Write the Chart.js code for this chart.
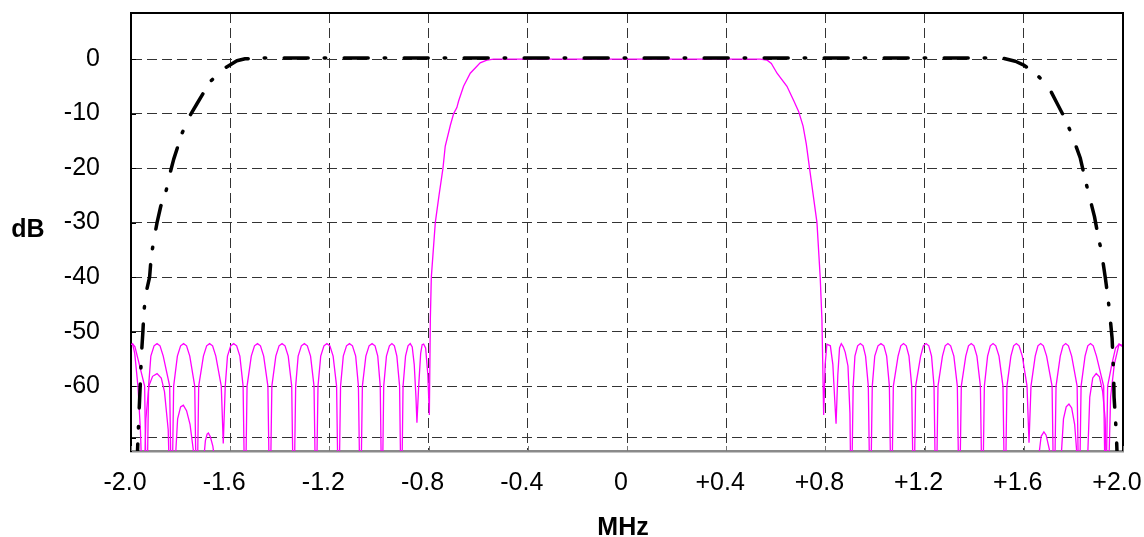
<!DOCTYPE html>
<html>
<head>
<meta charset="utf-8">
<title>Filter response, dB vs MHz</title>
<script src="https://cdn.jsdelivr.net/npm/chart.js@4.4.1/dist/chart.umd.min.js"></script>
<style>
  html, body { margin: 0; padding: 0; background: #fff; }
  #wrap { width: 1144px; height: 537px; position: relative; }
</style>
</head>
<body>
<div id="wrap"><canvas id="resp"></canvas></div>
<script>
/* ── axis ticks ─────────────────────────────────── */
const xTicks      = [-2.0, -1.6, -1.2, -0.8, -0.4, 0, 0.4, 0.8, 1.2, 1.6, 2.0];
const xTickLabels = ['-2.0', '-1.6', '-1.2', '-0.8', '-0.4', '0', '+0.4', '+0.8', '+1.2', '+1.6', '+2.0'];
const yTicks      = [-69.5, -60, -50, -40, -30, -20, -10, 0];
const yTickLabels = ['', '-60', '-50', '-40', '-30', '-20', '-10', '0'];

/* ── wide filter (black dash-dot) ───────────────── */
const wideX = [
  -1.976, -1.973, -1.968, -1.962, -1.958, -1.952, -1.948, -1.940, -1.925, -1.918, -1.905, -1.895,
  -1.880, -1.859, -1.844, -1.828, -1.794, -1.768, -1.734, -1.680, -1.627, -1.573, -1.540, -1.467,
  1.465, 1.520, 1.566, 1.600, 1.626, 1.655, 1.680, 1.710, 1.734, 1.767, 1.794, 1.828, 1.844, 1.861,
  1.885, 1.899, 1.913, 1.929, 1.938, 1.946, 1.956, 1.962, 1.964, 1.969, 1.973, 1.975, 1.978
];
const wideY = [
  -75, -71, -65.3, -59, -54.3, -50, -46.4, -43, -40, -36, -32.5, -30,
  -27, -24.3, -21.2, -18.4, -13.6, -10.8, -8.2, -4.1, -1.8, -0.3, 0.05, 0.2,
  0.2, 0.1, -0.4, -1.1, -2.0, -3, -4.1, -6, -8.1, -11, -13.9, -18.2, -21.4, -24.6,
  -28.9, -32.3, -35.3, -40.2, -43.3, -46.4, -51.2, -57.4, -62, -65.6, -68.6, -71, -75
];

/* ── narrow filter (magenta) ────────────────────── */
const narrowX = [
  -2.000, -1.994, -1.984, -1.972, -1.945, -1.937,
  -1.929, -1.920, -1.907, -1.895, -1.883, -1.870, -1.844, -1.836,
  -1.828, -1.813, -1.800, -1.788, -1.776, -1.763, -1.743, -1.735,
  -1.727, -1.708, -1.695, -1.683, -1.671, -1.658, -1.636, -1.628,
  -1.620, -1.611, -1.598, -1.586, -1.574, -1.561, -1.548, -1.540,
  -1.532, -1.515, -1.502, -1.490, -1.478, -1.465, -1.448, -1.440,
  -1.432, -1.416, -1.403, -1.391, -1.379, -1.366, -1.352, -1.344,
  -1.336, -1.326, -1.313, -1.301, -1.289, -1.276, -1.262, -1.254,
  -1.246, -1.235, -1.222, -1.210, -1.198, -1.185, -1.171, -1.163,
  -1.155, -1.144, -1.131, -1.119, -1.107, -1.094, -1.083, -1.075,
  -1.067, -1.053, -1.040, -1.028, -1.016, -1.005, -0.995, -0.988,
  -0.981, -0.970, -0.958, -0.948, -0.938, -0.928, -0.917, -0.910,
  -0.903, -0.893, -0.883, -0.874, -0.866, -0.858, -0.851, -0.847,
  -0.840, -0.832, -0.826, -0.820, -0.812, -0.803, -0.797,
  -0.793, -0.789, -0.773, -0.758, -0.742, -0.733, -0.712, -0.699, -0.686, -0.679, -0.659, -0.632, -0.592, -0.565, -0.538,
  0.538, 0.565, 0.582, 0.605, 0.645, 0.672, 0.692, 0.710, 0.723, 0.736, 0.766, 0.779, 0.786, 0.793,
  0.799, 0.806, 0.820, 0.830, 0.837, 0.843,
  0.850, 0.857, 0.864, 0.872, 0.880, 0.891, 0.899, 0.904,
  0.912, 0.919, 0.930, 0.941, 0.952, 0.962, 0.973, 0.981,
  0.989, 0.999, 1.012, 1.024, 1.036, 1.047, 1.058, 1.066,
  1.074, 1.093, 1.104, 1.115, 1.126, 1.137, 1.148, 1.156,
  1.164, 1.184, 1.195, 1.206, 1.217, 1.228, 1.238, 1.246,
  1.254, 1.272, 1.283, 1.294, 1.305, 1.318, 1.332, 1.340,
  1.348, 1.366, 1.377, 1.388, 1.399, 1.411, 1.425, 1.433,
  1.441, 1.454, 1.465, 1.476, 1.487, 1.500, 1.516, 1.524,
  1.532, 1.548, 1.559, 1.570, 1.581, 1.594, 1.613, 1.621,
  1.629, 1.646, 1.657, 1.668, 1.679, 1.692, 1.714, 1.722,
  1.730, 1.747, 1.758, 1.769, 1.780, 1.793, 1.815, 1.823,
  1.831, 1.847, 1.858, 1.869, 1.880, 1.893, 1.922, 1.930,
  1.938, 1.955, 1.970, 1.984, 2.000
];
const narrowY = [
  -52.4, -52.2, -52.8, -55.0, -60, -85,
  -60, -54.5, -52.6, -52.2, -52.6, -54.5, -60, -85,
  -60, -54.5, -52.6, -52.2, -52.6, -54.5, -60, -85,
  -60, -54.5, -52.6, -52.2, -52.6, -54.5, -60, -70.5,
  -60, -54.5, -52.6, -52.2, -52.6, -54.5, -60, -85,
  -60, -54.5, -52.6, -52.2, -52.6, -54.5, -60, -85,
  -60, -54.5, -52.6, -52.2, -52.6, -54.5, -60, -85,
  -60, -54.5, -52.6, -52.2, -52.6, -54.5, -60, -85,
  -60, -54.5, -52.6, -52.2, -52.6, -54.5, -60, -85,
  -60, -54.5, -52.6, -52.2, -52.6, -54.5, -60, -85,
  -60, -54.5, -52.6, -52.2, -52.6, -54.5, -60, -85,
  -60, -54.5, -52.6, -52.2, -52.6, -54.5, -60, -85,
  -60, -54.5, -52.6, -52.2, -52.8, -56, -62, -66.7,
  -60, -54, -52.4, -52.3, -53, -58, -65.3,
  -47.8, -40, -30, -25, -20, -16, -12.1, -10, -8.9, -7.7, -5, -2.6, -0.7, -0.2, 0,
  0, -0.2, -0.8, -2.6, -5, -7.6, -9.6, -12.3, -15.6, -20, -30, -40, -47.8, -65.3,
  -56, -52.3, -52.6, -56, -62, -66.9,
  -58, -53, -52.2, -52.8, -53.8, -56.3, -65, -85,
  -60, -54.5, -52.6, -52.2, -52.6, -54.5, -60, -85,
  -60, -54.5, -52.6, -52.2, -52.6, -54.5, -60, -85,
  -60, -54.5, -52.6, -52.2, -52.6, -54.5, -60, -85,
  -60, -54.5, -52.6, -52.2, -52.6, -54.5, -60, -85,
  -60, -54.5, -52.6, -52.2, -52.6, -54.5, -60, -85,
  -60, -54.5, -52.6, -52.2, -52.6, -54.5, -60, -85,
  -60, -54.5, -52.6, -52.2, -52.6, -54.5, -60, -85,
  -60, -54.5, -52.6, -52.2, -52.6, -54.5, -60, -70.4,
  -60, -54.5, -52.6, -52.2, -52.6, -54.5, -60, -85,
  -60, -54.5, -52.6, -52.2, -52.6, -54.5, -60, -85,
  -60, -54.5, -52.6, -52.2, -52.6, -54.5, -60, -85,
  -60, -56, -53, -52.3, -52.8
];

/* lower lobes near both band edges (same magenta trace) */
const edgeX = [
  -1.994, -1.985, -1.972, -1.962, -1.950,
  -1.940, -1.928, -1.913, -1.895, -1.878, -1.865, -1.850, -1.840,
  -1.823, -1.812, -1.800, -1.789, -1.776, -1.762, -1.748, -1.735,
  -1.708, -1.700, -1.693, -1.688, -1.680, -1.670, -1.661, -1.655,
  0,
  1.650, 1.660, 1.670, 1.681, 1.690, 1.705, 1.715,
  1.748, 1.760, 1.771, 1.782, 1.793, 1.805, 1.815, 1.823,
  1.856, 1.866, 1.878, 1.892, 1.905, 1.918, 1.928, 1.937,
  1.950, 1.965, 1.984, 2.000
];
const edgeY = [
  -52.2, -54, -60, -68, -85,
  -66, -60, -58.2, -57.7, -58.5, -61, -68, -85,
  -75, -66, -63.8, -63.5, -64.5, -67, -72, -85,
  -74, -70, -68.8, -68.6, -69.3, -71, -74, -85,
  null,
  -85, -73, -69.2, -68.4, -69, -72, -85,
  -75, -66, -63.8, -63.3, -64, -67, -73, -85,
  -75, -62, -58.5, -57.7, -58.3, -61, -66, -85,
  -62, -56, -52.3, -52.6
];

const toPoints = (xs, ys) => xs.map((x, i) => ({ x: x, y: ys[i] }));

const FONT = '"Liberation Sans", Arial, sans-serif';

/* ── frame, inner tick marks and axis titles ────── */
const frame = {
  id: 'frame',
  afterDraw(chart) {
    const { ctx, chartArea: a, scales } = chart;
    ctx.save();
    ctx.setLineDash([]);

    ctx.strokeStyle = '#000';
    ctx.lineWidth = 2;
    ctx.beginPath();
    ctx.moveTo(a.left, a.top);
    ctx.lineTo(a.right, a.top);
    ctx.lineTo(a.right, a.bottom);
    ctx.stroke();

    ctx.lineWidth = 1;
    ctx.strokeStyle = '#777';
    xTicks.forEach(v => {
      const px = Math.round(scales.x.getPixelForValue(v)) + 0.5;
      ctx.beginPath(); ctx.moveTo(px, a.bottom); ctx.lineTo(px, a.bottom - 5); ctx.stroke();
    });
    ctx.strokeStyle = '#000';
    yTicks.forEach(v => {
      const py = Math.round(scales.y.getPixelForValue(v)) + 0.5;
      ctx.beginPath(); ctx.moveTo(a.left, py); ctx.lineTo(a.left + 5, py); ctx.stroke();
    });

    ctx.fillStyle = '#000';
    ctx.font = 'bold 25px ' + FONT;
    ctx.textAlign = 'center';
    ctx.textBaseline = 'alphabetic';
    ctx.fillText('dB', 28, 237);
    ctx.fillText('MHz', 623, 535);
    ctx.restore();
  }
};

new Chart(document.getElementById('resp'), {
  type: 'line',
  data: {
    datasets: [
      {
        data: toPoints(wideX, wideY),
        borderColor: '#000',
        borderWidth: 3.5,
        borderDash: [24, 16, 1.5, 18.5],
        borderCapStyle: 'round',
        borderJoinStyle: 'round'
      },
      {
        data: toPoints(narrowX, narrowY),
        borderColor: '#ff00ff',
        borderWidth: 1.3
      },
      {
        data: toPoints(edgeX, edgeY),
        borderColor: '#ff00ff',
        borderWidth: 1.3,
        spanGaps: false
      }
    ]
  },
  options: {
    responsive: true,
    maintainAspectRatio: false,
    animation: false,
    layout: { padding: { top: 13, right: 21, bottom: 0, left: 0 } },
    plugins: { legend: { display: false }, tooltip: { enabled: false } },
    elements: { point: { radius: 0 }, line: { tension: 0, fill: false } },
    scales: {
      x: {
        type: 'linear',
        min: -2,
        max: 2,
        afterBuildTicks: s => { s.ticks = xTicks.map(v => ({ value: v })); },
        afterFit: s => { s.height = 86; s.paddingLeft = 0; s.paddingRight = 0; },
        ticks: {
          autoSkip: false,
          maxRotation: 0,
          padding: 17,
          labelOffset: -6,
          color: '#000',
          font: { family: FONT, size: 25 },
          callback: (v, i) => xTickLabels[i]
        },
        grid: { color: '#333', lineWidth: 1, drawTicks: false },
        border: { color: '#8a8a8a', width: 2.5, dash: [10, 5] }
      },
      y: {
        type: 'linear',
        min: -71.9,
        max: 8.45,
        afterBuildTicks: s => { s.ticks = yTicks.map(v => ({ value: v })); },
        afterFit: s => { s.width = 131; s.paddingTop = 0; s.paddingBottom = 0; },
        ticks: {
          autoSkip: false,
          padding: 31,
          color: '#000',
          font: { family: FONT, size: 25 },
          callback: (v, i) => yTickLabels[i]
        },
        grid: { color: '#333', lineWidth: 1, drawTicks: false },
        border: { color: '#000', width: 2, dash: [10, 5] }
      }
    }
  },
  plugins: [frame]
});
</script>
</body>
</html>
